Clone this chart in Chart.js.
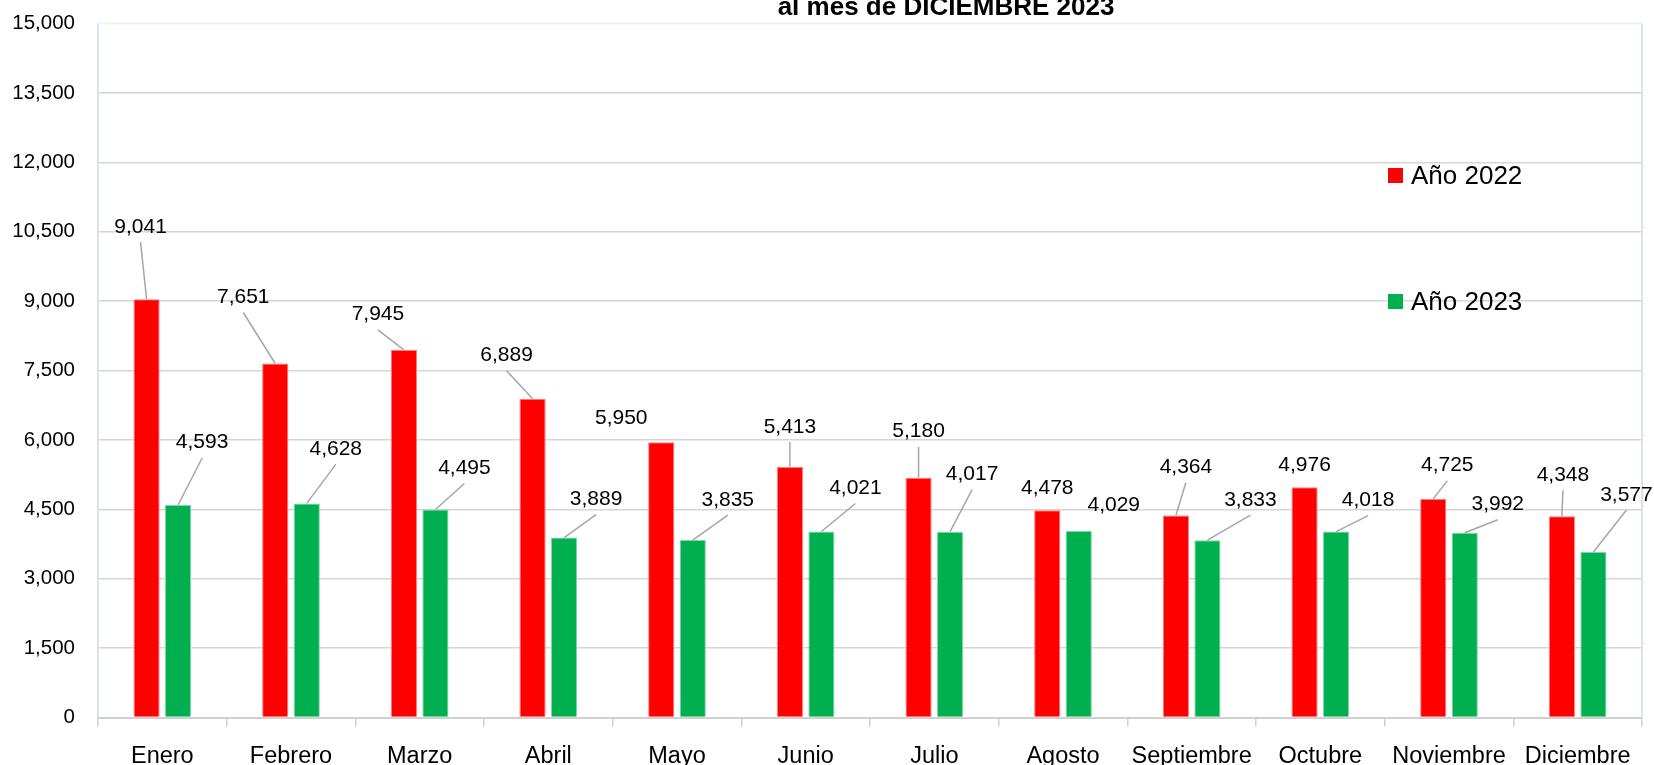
<!DOCTYPE html>
<html>
<head>
<meta charset="utf-8">
<script src="https://cdn.jsdelivr.net/npm/chart.js@4.4.1/dist/chart.umd.min.js"></script>
<style>
  html, body { margin: 0; padding: 0; background: #fff; overflow: hidden; }
  #wrap { width: 1654px; height: 790px; }
</style>
</head>
<body>
<div id="wrap"><canvas id="myChart" width="1654" height="790"></canvas></div>
<script>
// data
var meses = ['Enero', 'Febrero', 'Marzo', 'Abril', 'Mayo', 'Junio', 'Julio', 'Agosto', 'Septiembre', 'Octubre', 'Noviembre', 'Diciembre'];
var anio2022 = [9041, 7651, 7945, 6889, 5950, 5413, 5180, 4478, 4364, 4976, 4725, 4348];
var anio2023 = [4593, 4628, 4495, 3889, 3835, 4021, 4017, 4029, 3833, 4018, 3992, 3577];
var yTicks = [0, 1500, 3000, 4500, 6000, 7500, 9000, 10500, 12000, 13500, 15000];
var titulo = 'al mes de DICIEMBRE 2023';

// where each value label sits relative to the top of its bar (px), and if it has a leader line
var labelDx = [
    [-6, -32, -26, -26, -40, 0, 0, 0, 10, 0, 14, 1],
    [24, 29, 29, 32, 35, 34, 22, 35, 43, 32, 33, 33]
];
var labelDy = [
    [-74, -68, -37, -45, -26, -42, -48, -24, -50, -24, -35, -43],
    [-64, -56, -43, -40, -42, -45, -59, -28, -42, -33, -30, -59]
];
var labelLine = [
    [1, 1, 1, 1, 0, 1, 1, 0, 1, 0, 1, 1],
    [1, 1, 1, 1, 1, 1, 1, 0, 1, 1, 1, 1]
];

var FONT = 'Arial, "Liberation Sans", sans-serif';

var marco = {
    id: 'marco',
    beforeDatasetsDraw: function(chart) {
        var a = chart.chartArea, ctx = chart.ctx;
        ctx.save();
        ctx.lineWidth = 2;
        ctx.strokeStyle = '#edf2f8';
        ctx.beginPath(); ctx.moveTo(a.left, a.top); ctx.lineTo(a.right, a.top); ctx.stroke();
        ctx.strokeStyle = '#d6e3f2';
        ctx.beginPath(); ctx.moveTo(a.left, a.top); ctx.lineTo(a.left, a.bottom); ctx.stroke();
        ctx.beginPath(); ctx.moveTo(a.right, a.top); ctx.lineTo(a.right, a.bottom); ctx.stroke();
        ctx.restore();
    }
};

var etiquetas = {
    id: 'etiquetas',
    afterDatasetsDraw: function(chart) {
        var ctx = chart.ctx;
        ctx.save();
        ctx.font = '21px ' + FONT;
        ctx.textAlign = 'center';
        ctx.textBaseline = 'alphabetic';
        chart.data.datasets.forEach(function(ds, di) {
            var meta = chart.getDatasetMeta(di);
            meta.data.forEach(function(el, i) {
                var lx = el.x + labelDx[di][i];
                var ly = el.y + labelDy[di][i];
                if (labelLine[di][i]) {
                    ctx.strokeStyle = '#a6a6a6';
                    ctx.lineWidth = 1.5;
                    ctx.beginPath();
                    ctx.moveTo(lx, ly + 17);
                    ctx.lineTo(el.x, el.y);
                    ctx.stroke();
                }
                ctx.fillStyle = '#000';
                ctx.fillText(ds.data[i].toLocaleString('en-US'), lx, ly + 7.5);
            });
        });
        ctx.restore();
    }
};

var leyenda = {
    id: 'leyenda',
    afterDraw: function(chart) {
        var ctx = chart.ctx;
        var pos = [176, 302];
        ctx.save();
        ctx.font = '26px ' + FONT;
        ctx.textBaseline = 'middle';
        ctx.textAlign = 'left';
        chart.data.datasets.forEach(function(ds, di) {
            ctx.fillStyle = ds.backgroundColor;
            ctx.fillRect(1388, pos[di] - 8, 15, 15);
            ctx.fillStyle = '#000';
            ctx.fillText(ds.label, 1411, pos[di] + 1);
        });
        ctx.font = 'bold 26px ' + FONT;
        ctx.textAlign = 'center';
        ctx.textBaseline = 'alphabetic';
        ctx.fillText(titulo, 946, 14.5);
        ctx.restore();
    }
};

window.onload = function() {
    var ctx = document.getElementById('myChart').getContext('2d');
    var myChart = new Chart(ctx, {
        type: 'bar',
        data: {
            labels: meses,
            datasets: [{
                label: 'Año 2022',
                data: anio2022,
                backgroundColor: '#ff0000',
                borderColor: '#ff7a7a',
                borderWidth: 1,
                categoryPercentage: 0.49,
                barPercentage: 0.83
            }, {
                label: 'Año 2023',
                data: anio2023,
                backgroundColor: '#00b050',
                borderColor: '#7fd6a6',
                borderWidth: 1,
                categoryPercentage: 0.49,
                barPercentage: 0.83
            }]
        },
        options: {
            responsive: false,
            animation: false,
            layout: { padding: { top: 23.5, right: 12, left: 0, bottom: 0 } },
            plugins: {
                legend: { display: false },
                title: { display: false },
                tooltip: { enabled: false }
            },
            scales: {
                x: {
                    grid: {
                        offset: true,
                        drawOnChartArea: false,
                        drawTicks: true,
                        tickLength: 9,
                        color: '#d0d0d0',
                        lineWidth: 1.5
                    },
                    border: { display: true, color: '#d0d0d0', width: 2 },
                    ticks: {
                        color: '#000',
                        padding: 16,
                        maxRotation: 0,
                        autoSkip: false,
                        font: { family: FONT, size: 23.5 }
                    },
                    afterFit: function(scale) { scale.height = 72.5; }
                },
                y: {
                    min: 0,
                    max: 15000,
                    afterBuildTicks: function(scale) {
                        scale.ticks = yTicks.map(function(v) { return { value: v }; });
                    },
                    grid: {
                        drawTicks: true,
                        tickLength: 23,
                        tickColor: 'rgba(0,0,0,0)',
                        lineWidth: 1.5,
                        color: function(c) {
                            if (c.tick && (c.tick.value === 0 || c.tick.value === 15000)) return 'rgba(0,0,0,0)';
                            return '#d6d6d6';
                        }
                    },
                    border: { display: false },
                    ticks: {
                        color: '#000',
                        padding: 0,
                        font: { family: FONT, size: 20.5 },
                        callback: function(v) { return Number(v).toLocaleString('en-US'); }
                    },
                    afterFit: function(scale) { scale.width = 98; }
                }
            }
        },
        plugins: [marco, etiquetas, leyenda]
    });
}
</script>
</body>
</html>
